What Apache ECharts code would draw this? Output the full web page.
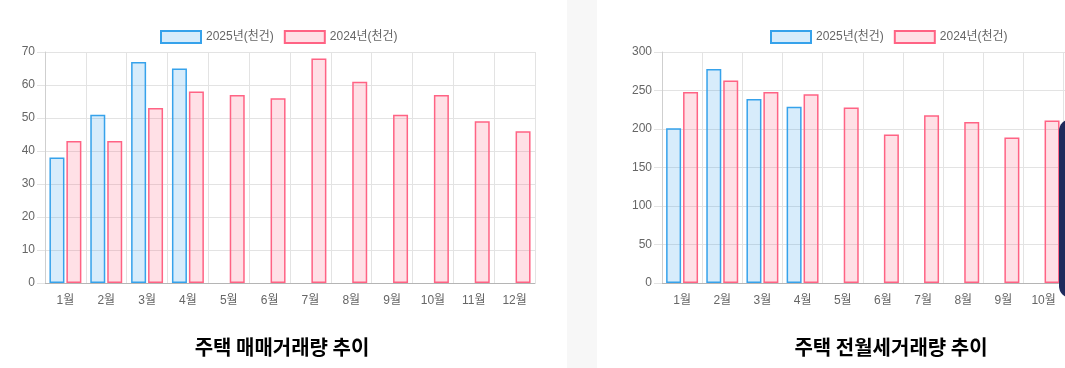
<!DOCTYPE html>
<html>
<head>
<meta charset="utf-8">
<script src="https://cdn.jsdelivr.net/npm/echarts@6/dist/echarts.min.js"></script>
<style>
  html, body { margin: 0; padding: 0; width: 1065px; height: 368px; overflow: hidden; background: #f7f7f7; }
  .card { position: absolute; top: 0; height: 368px; background: #fff; }
  #leftCard { left: -20px; width: 587px; }
  #rightCard { left: 597px; width: 620px; }
  #sale { position: absolute; left: 20px; top: 0; width: 565px; height: 368px; }
  #rent { position: absolute; left: 0; top: 0; width: 620px; height: 368px; }
  #floatBtn { position: absolute; left: 1059px; top: 119px; width: 60px; height: 179px; background: #1f2a5c; border-radius: 12px; }
</style>
</head>
<body>
<div class="card" id="leftCard"><div id="sale"></div></div>
<div class="card" id="rightCard"><div id="rent"></div></div>
<div id="floatBtn"></div>
<script>
  const months = ['1월', '2월', '3월', '4월', '5월', '6월', '7월', '8월', '9월', '10월', '11월', '12월']
  const legendNames = ['2025년(천건)', '2024년(천건)']

  // 주택 매매거래량 (천건)
  const sale2025 = [38, 51, 67, 65, null, null, null, null, null, null, null, null]
  const sale2024 = [43, 43, 53, 58, 57, 56, 68, 61, 51, 57, 49, 46]

  // 주택 전월세거래량 (천건)
  const rent2025 = [201, 278, 239, 229, null, null, null, null, null, null, null, null]
  const rent2024 = [248, 263, 248, 245, 228, 193, 218, 209, 189, 211, 205, 226]

  const labelFont = "'Liberation Sans', 'Noto Sans CJK KR', sans-serif"

  function buildOption (cfg) {
    return {
      animation: false,
      textStyle: { fontFamily: labelFont },
      title: {
        text: cfg.title,
        left: cfg.titleX,
        textAlign: 'center',
        top: 332,
        textStyle: { fontFamily: "'Noto Sans CJK KR', sans-serif", fontSize: 20, fontWeight: 'bold', color: '#000' }
      },
      legend: {
        left: cfg.legendX,
        top: 25,
        icon: 'rect',
        itemWidth: 40,
        itemHeight: 12,
        itemGap: 10,
        textStyle: { color: '#666', fontSize: 12, fontFamily: labelFont },
        data: legendNames
      },
      grid: { left: cfg.gridLeft, top: 52, width: cfg.gridWidth, height: 231 },
      xAxis: {
        type: 'category',
        data: months,
        axisLine: { lineStyle: { color: '#b5b5b5' } },
        axisTick: { length: 10, lineStyle: { color: '#e3e3e3' } },
        axisLabel: { color: '#666', fontSize: 12, margin: 12 },
        splitLine: { show: true, lineStyle: { color: '#e3e3e3' } }
      },
      yAxis: {
        type: 'value',
        min: 0,
        max: cfg.yMax,
        interval: cfg.yStep,
        axisLine: { show: true, lineStyle: { color: '#cfcfcf' } },
        axisTick: { show: true, length: 8, lineStyle: { color: '#e3e3e3' } },
        axisLabel: { color: '#666', fontSize: 12, margin: 10 },
        splitLine: { lineStyle: { color: '#e3e3e3' } }
      },
      series: [
        {
          name: legendNames[0],
          type: 'bar',
          data: cfg.cur,
          barWidth: 15,
          barGap: '13%',
          itemStyle: { color: 'rgba(54,162,235,0.2)', borderColor: 'rgb(54,162,235)', borderWidth: 1.5 }
        },
        {
          name: legendNames[1],
          type: 'bar',
          data: cfg.prev,
          barWidth: 15,
          itemStyle: { color: 'rgba(255,99,132,0.2)', borderColor: 'rgb(255,99,132)', borderWidth: 1.5 }
        }
      ]
    }
  }

  const saleChart = echarts.init(document.getElementById('sale'))
  saleChart.setOption(buildOption({
    title: '주택 매매거래량 추이',
    titleX: 277,
    legendX: 155,
    gridLeft: 45,
    gridWidth: 490,
    yMax: 70,
    yStep: 10,
    cur: sale2025,
    prev: sale2024
  }))

  const rentChart = echarts.init(document.getElementById('rent'))
  rentChart.setOption(buildOption({
    title: '주택 전월세거래량 추이',
    titleX: 289,
    legendX: 168,
    gridLeft: 65,
    gridWidth: 482,
    yMax: 300,
    yStep: 50,
    cur: rent2025,
    prev: rent2024
  }))
</script>
</body>
</html>
